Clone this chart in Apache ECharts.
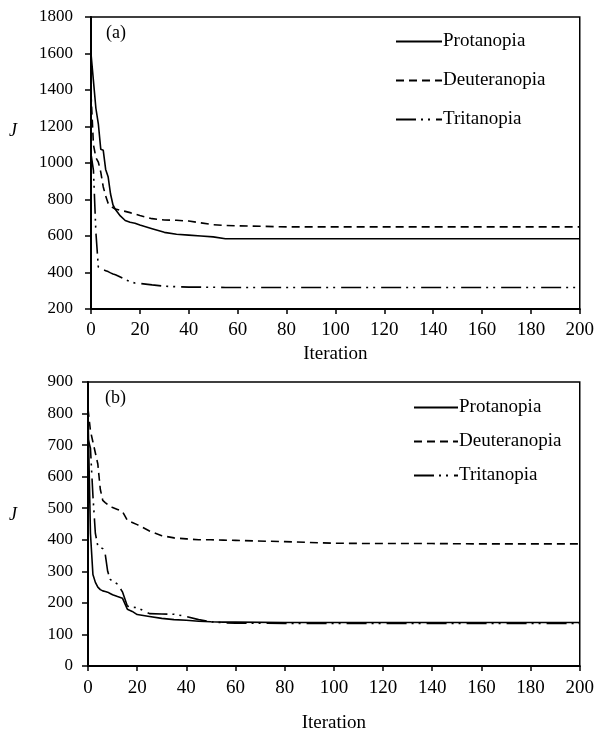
<!DOCTYPE html>
<html>
<head>
<meta charset="utf-8">
<script src="https://cdn.jsdelivr.net/npm/echarts@6/dist/echarts.min.js"></script>
<style>
  html, body { margin: 0; padding: 0; background: #fff; }
  #main { width: 597px; height: 734px; }
</style>
</head>
<body>
<div id="main"></div>
<script>
  // iteration sample points (shared by both panels)
  const iterations = [0, 1, 2, 3, 4, 5, 6, 7, 8, 9, 10, 12, 14, 16, 18, 20, 25, 30, 35, 40, 45, 50, 55, 60, 80, 100, 120, 140, 160, 180, 200]
  const xTicks = [0, 20, 40, 60, 80, 100, 120, 140, 160, 180, 200]
  const seriesNames = ['Protanopia', 'Deuteranopia', 'Tritanopia']

  // panel (a)
  const protA = [1600, 1450, 1300, 1215, 1075, 1070, 965, 925, 830, 770, 745, 710, 685, 675, 670, 660, 640, 620, 610, 605, 600, 595, 585, 585, 585, 585, 585, 585, 585, 585, 585]
  const deutA = [1380, 1100, 1030, 1005, 950, 870, 820, 780, 765, 755, 748, 740, 735, 728, 720, 712, 695, 688, 686, 682, 672, 662, 658, 656, 650, 650, 650, 650, 650, 650, 650]
  const tritA = [1050, 960, 620, 430, 420, 415, 410, 405, 398, 392, 388, 375, 362, 350, 342, 340, 332, 325, 322, 320, 320, 319, 318, 318, 318, 318, 318, 318, 318, 318, 318]

  // panel (b)
  const protB = [800, 420, 290, 265, 250, 242, 238, 236, 234, 230, 226, 220, 215, 180, 173, 163, 157, 151, 147, 145, 142, 140, 139, 139, 138, 138, 138, 138, 138, 138, 138]
  const deutB = [815, 745, 710, 675, 640, 560, 525, 518, 512, 506, 502, 496, 490, 462, 455, 448, 428, 413, 406, 403, 400, 400, 399, 398, 394, 389, 388, 388, 387, 387, 387]
  const tritB = [720, 690, 540, 420, 380, 376, 372, 355, 300, 275, 268, 260, 235, 190, 186, 185, 166, 165, 164, 157, 147, 140, 137, 136, 135, 135, 135, 135, 135, 135, 135]

  const serif = '"Liberation Serif", "Times New Roman", serif'
  const dashTypes = ['solid', [8, 5], [20, 5, 2, 5, 2, 6]]

  function pairs(ys) {
    return iterations.map((x, i) => [x, ys[i]])
  }

  function makeSeries(name, ys, idx, k) {
    return {
      name: name,
      type: 'line',
      xAxisIndex: idx,
      yAxisIndex: idx,
      symbol: 'none',
      animation: false,
      lineStyle: { color: '#000', width: 1.6, type: dashTypes[k] },
      itemStyle: { color: '#000' },
      data: pairs(ys),
    }
  }

  function xAxisFor(idx, gap, margin) {
    return {
      type: 'value',
      gridIndex: idx,
      min: 0,
      max: 200,
      interval: 20,
      name: 'Iteration',
      nameLocation: 'middle',
      nameGap: gap,
      nameTextStyle: { fontFamily: serif, fontSize: 19, color: '#000' },
      axisLine: { onZero: false, lineStyle: { color: '#000', width: 2 } },
      axisTick: { show: true, length: 5, lineStyle: { color: '#000', width: 1.5 } },
      axisLabel: { fontFamily: serif, fontSize: 19, color: '#000', margin: margin,
        formatter: (v) => (xTicks.includes(v) ? String(v) : '') },
      splitLine: { show: false },
    }
  }

  function yAxisFor(idx, min, max, step, margin) {
    return {
      type: 'value',
      gridIndex: idx,
      min: min,
      max: max,
      interval: step,
      axisLine: { show: true, lineStyle: { color: '#000', width: 2 } },
      axisTick: { show: true, length: 6, lineStyle: { color: '#000', width: 1.5 } },
      axisLabel: { fontFamily: serif, fontSize: 17, color: '#000', margin: margin,
        formatter: (v) => String(v) },
      splitLine: { show: false },
    }
  }

  function legendFor(left, top, width, gap) {
    return {
      orient: 'vertical',
      left: left,
      top: top,
      itemWidth: width,
      itemHeight: 14,
      itemGap: gap,
      selectedMode: false,
      data: seriesNames,
      itemStyle: { opacity: 0 },
      textStyle: { fontFamily: serif, fontSize: 19, color: '#000', padding: [0, 0, 0, -4] },
    }
  }

  const chart = echarts.init(document.getElementById('main'))
  chart.setOption({
    backgroundColor: '#fff',
    animation: false,
    grid: [
      { left: 91, right: 16, top: 17, height: 292, show: true, borderColor: '#000', borderWidth: 1.5 },
      { left: 88, right: 16, top: 382, height: 292, show: true, borderColor: '#000', borderWidth: 1.5 },
    ],
    xAxis: [xAxisFor(0, 36, 12), xAxisFor(1, 48, 13)],
    yAxis: [yAxisFor(0, 200, 1800, 200, 18), yAxisFor(1, 0, 900, 100, 15)],
    legend: [
      legendFor(390, 27, 46, 20),
      legendFor(408, 393, 44, 15),
    ],
    graphic: [
      { type: 'text', left: 106, top: 24, style: { text: '(a)', fontFamily: serif, fontSize: 18, fill: '#000' } },
      { type: 'text', left: 105, top: 389, style: { text: '(b)', fontFamily: serif, fontSize: 18, fill: '#000' } },
      { type: 'text', left: 9, top: 122, style: { text: 'J', fontFamily: serif, fontSize: 18, fontStyle: 'italic', fill: '#000' } },
      { type: 'text', left: 9, top: 506, style: { text: 'J', fontFamily: serif, fontSize: 18, fontStyle: 'italic', fill: '#000' } },
    ],
    series: [
      makeSeries('Protanopia', protA, 0, 0),
      makeSeries('Deuteranopia', deutA, 0, 1),
      makeSeries('Tritanopia', tritA, 0, 2),
      makeSeries('Protanopia', protB, 1, 0),
      makeSeries('Deuteranopia', deutB, 1, 1),
      makeSeries('Tritanopia', tritB, 1, 2),
    ],
  })
</script>
</body>
</html>
